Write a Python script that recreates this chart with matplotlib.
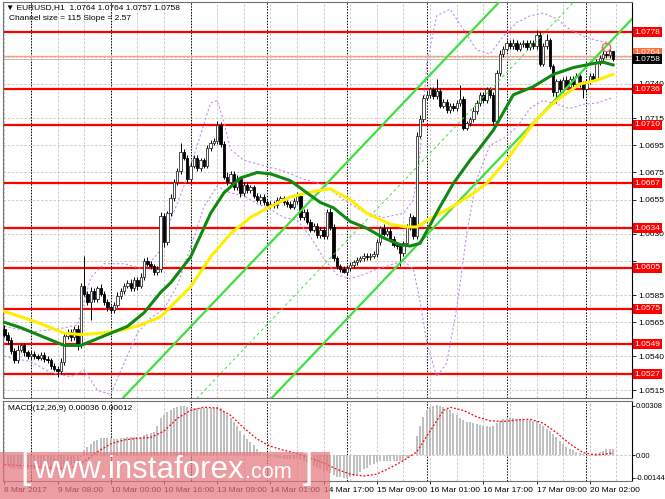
import numpy as np
import matplotlib.pyplot as plt
from matplotlib.patches import Rectangle

plt.rcParams['font.family'] = ['Liberation Sans', 'DejaVu Sans']
plt.rcParams['font.size'] = 6

# EURUSD H1, prices in pips above 1.0500 (bar 0 = 8 Mar 16:00, last = 20 Mar 09:00)
first_open = 60
closes = [56, 52, 44, 37, 45, 48, 43, 40, 42, 40,
          39, 41, 38, 37, 33, 31, 29, 36, 55, 58,
          54, 60, 48, 92, 86, 80, 88, 82, 90, 86,
          80, 76, 74, 78, 84, 88, 92, 94, 90, 96,
          92, 98, 110, 108, 106, 102, 104, 143, 124, 145,
          156, 168, 176, 190, 186, 170, 180, 186, 178, 184,
          180, 193, 197, 198, 210, 196, 172, 168, 174, 164,
          170, 160, 166, 162, 164, 158, 155, 157, 153, 151,
          152, 151, 155, 156, 153, 152, 150, 154, 158, 142,
          146, 139, 133, 136, 129, 133, 128, 146, 135, 112,
          106, 104, 102, 105, 107, 109, 111, 112, 114, 113,
          114, 115, 124, 134, 130, 132, 126, 122, 121, 116,
          123, 135, 142, 128, 202, 214, 230, 232, 236, 231,
          235, 224, 227, 221, 224, 222, 226, 229, 208, 211,
          214, 220, 226, 232, 228, 236, 232, 213, 248, 262,
          266, 270, 268, 270, 266, 269, 270, 267, 270, 268,
          276, 255, 268, 272, 253, 234, 242, 236, 243, 238,
          244, 240, 246, 240, 236, 242, 246, 244, 256, 259,
          262, 261, 264, 258]
wick_up = [3, 2, 2, 2, 3, 2, 2, 2, 2, 2, 2, 2, 2, 2, 2, 2, 2, 3, 2, 2,
           2, 2, 3, 2, 22, 2, 3, 2, 2, 3, 2, 2, 2, 2, 3, 2, 2, 2, 3, 2,
           2, 3, 2, 3, 2, 2, 2, 3, 2, 2, 3, 2, 2, 7, 2, 2, 3, 2, 2, 2,
           2, 2, 2, 2, 3, 2, 2, 3, 2, 2, 3, 2, 2, 2, 2, 2, 2, 2, 2, 2,
           2, 2, 2, 2, 2, 2, 2, 2, 3, 2, 2, 2, 2, 2, 2, 2, 2, 2, 3, 2,
           2, 2, 2, 2, 2, 2, 2, 2, 2, 2, 2, 2, 2, 2, 3, 2, 2, 2, 2, 2,
           2, 2, 3, 2, 3, 3, 2, 3, 2, 2, 9, 2, 2, 2, 2, 2, 2, 10, 2, 2,
           2, 3, 2, 2, 2, 2, 2, 2, 2, 3, 2, 2, 2, 3, 2, 2, 2, 2, 2, 2,
           4, 2, 2, 5, 2, 2, 2, 2, 2, 3, 2, 2, 2, 2, 2, 2, 2, 2, 2, 2,
           2, 2, 3, 0]
wick_dn = [2, 3, 2, 2, 2, 2, 3, 2, 2, 2, 2, 2, 2, 2, 2, 2, 4, 2, 2, 2,
           3, 2, 3, 2, 2, 2, 13, 2, 2, 2, 2, 3, 2, 2, 2, 2, 2, 2, 2, 2,
           3, 2, 2, 2, 2, 2, 2, 2, 4, 2, 2, 2, 2, 2, 2, 3, 2, 2, 2, 2,
           2, 2, 2, 2, 2, 2, 2, 2, 3, 2, 2, 3, 2, 2, 2, 2, 2, 3, 2, 2,
           2, 2, 2, 2, 2, 2, 2, 2, 2, 2, 2, 2, 2, 2, 2, 2, 2, 2, 2, 2,
           2, 2, 1, 2, 2, 2, 2, 2, 2, 2, 2, 2, 2, 2, 2, 2, 2, 2, 2, 10,
           2, 2, 2, 2, 2, 2, 2, 2, 2, 2, 2, 2, 2, 2, 2, 2, 2, 2, 2, 2,
           2, 2, 2, 2, 2, 2, 2, 3, 2, 2, 2, 2, 2, 2, 2, 2, 2, 2, 2, 2,
           2, 2, 2, 2, 2, 3, 8, 2, 2, 2, 2, 2, 2, 2, 6, 2, 2, 2, 2, 2,
           2, 2, 2, 1]

# moving averages (sampled bar, pips)
green_bars = [0, 5, 9, 14, 18, 23, 27, 32, 37, 42, 47, 50, 56, 62, 66, 71, 76, 80, 86, 91, 95,
              99, 104, 109, 114, 119, 122, 125, 127, 131, 135, 140, 142, 147, 153, 159, 165, 171,
              177, 180, 183]
green_vals = [65, 61, 57, 52, 48, 48, 52, 57, 62, 72, 87, 94, 113, 145, 160, 171, 175, 174, 169,
              160, 153, 149, 139, 134, 127, 122, 121, 123, 132, 150, 167, 184, 190, 206, 232, 238,
              247, 252, 255, 256, 254]
yellow_bars = [0, 5, 11, 18, 23, 29, 35, 41, 47, 49, 56, 62, 68, 74, 80, 86, 91, 95, 98, 104, 109,
               116, 121, 124, 128, 134, 140, 145, 151, 159, 165, 173, 177, 183]
yellow_vals = [73, 69, 64, 57, 56, 57, 59, 63, 69, 74, 91, 113, 130, 142, 150, 157, 160, 162, 163,
               155, 145, 137, 135, 135, 141, 149, 158, 167, 184, 211, 226, 240, 242, 247]

# Bollinger bands (sampled bar, pips)
bb_up_bars = [0, 8, 16, 22, 26, 30, 36, 42, 47, 50, 54, 58, 62, 64, 66, 68, 72, 78, 84, 90, 96,
              102, 108, 114, 120, 123, 125, 127, 130, 134, 138, 142, 146, 150, 154, 158, 162, 166,
              170, 174, 178, 183]
bb_up_vals = [62, 58, 60, 63, 98, 108, 108, 104, 118, 140, 165, 195, 226, 228, 212, 192, 184, 180,
              176, 170, 166, 155, 146, 142, 145, 155, 190, 255, 290, 295, 280, 265, 262, 275, 285,
              290, 292, 288, 280, 275, 272, 270]
bb_dn_bars = [0, 8, 14, 20, 24, 28, 32, 36, 40, 44, 48, 52, 56, 60, 64, 68, 72, 76, 80, 84, 88,
              92, 96, 100, 104, 108, 112, 116, 120, 123, 125, 127, 130, 133, 136, 139, 142, 146,
              150, 154, 158, 162, 166, 170, 174, 178, 183]
bb_dn_vals = [40, 36, 28, 25, 30, 15, 12, 35, 57, 68, 75, 92, 120, 150, 165, 160, 158, 152, 148,
              142, 140, 128, 112, 100, 97, 100, 104, 107, 110, 104, 80, 50, 25, 35, 75, 130, 170,
              195, 200, 208, 222, 228, 225, 222, 225, 226, 230]

# linear regression channel
chan_bar, chan_low, chan_slope, chan_size = 103, 67.5, 2.57, 115

levels = [1.0778, 1.0736, 1.0710, 1.0667, 1.0634, 1.0605, 1.0575, 1.0549, 1.0527]
price_ticks = [1.0515, 1.0540, 1.0565, 1.0585, 1.0610, 1.0630, 1.0655, 1.0675, 1.0695,
               1.0715, 1.0740, 1.0760]
price_labels = ['1.0515', '1.0540', '1.0565', '1.0585', '', '1.0630', '1.0655', '1.0675',
                '1.0695', '1.0715', '1.0740', '']
bid, ask_line, last_high = 1.0758, 1.07605, 1.0764
circle_bar, circle_price = 181, 1.0767

# MACD main (1e-5) per bar and signal samples
macd = [-70, -75, -80, -85, -85, -85, -80, -85, -85, -85,
        -85, -85, -85, -90, -95, -95, -100, -95, -80, -70,
        -60, -50, -50, -10, 30, 50, 70, 85, 95, 105,
        108, 108, 105, 102, 102, 105, 108, 110, 110, 112,
        112, 115, 125, 135, 140, 145, 185, 230, 250, 270,
        285, 295, 300, 305, 305, 300, 298, 298, 296, 296,
        295, 295, 296, 298, 300, 292, 270, 250, 230, 205,
        180, 150, 125, 100, 80, 60, 40, 20, 5, -5,
        -10, -15, -18, -20, -22, -25, -25, -22, -20, -30,
        -40, -50, -60, -70, -80, -90, -100, -100, -110, -125,
        -135, -140, -145, -145, -140, -130, -120, -105, -90, -80,
        -65, -55, -45, -40, -35, -35, -35, -38, -38, -40,
        -35, -20, -5, 0, 120, 180, 240, 280, 300, 310,
        312, 310, 300, 290, 280, 265, 250, 235, 220, 210,
        205, 200, 195, 190, 185, 180, 175, 185, 200, 215,
        225, 228, 230, 230, 228, 226, 224, 222, 220, 215,
        215, 195, 180, 165, 150, 130, 110, 90, 70, 50,
        40, 30, 20, 10, 5, 0, -5, 0, 10, 20,
        28, 35, 38, 36]
sig_bars = [0, 8, 16, 20, 24, 28, 32, 36, 40, 44, 48, 52, 56, 60, 64, 68, 72, 76, 80, 84, 88, 92,
            96, 100, 104, 108, 112, 116, 120, 124, 128, 132, 134, 138, 142, 146, 150, 154, 158,
            162, 166, 170, 174, 178, 183]
sig_vals = [-60, -70, -85, -80, -40, 20, 70, 95, 105, 110, 150, 230, 280, 300, 295, 250, 170, 100,
            55, 30, 10, -20, -50, -90, -120, -132, -120, -80, -35, 20, 150, 280, 300, 280, 240,
            215, 210, 220, 225, 200, 140, 70, 15, 0, 12]

date_bars = [0, 16, 32, 48, 64, 80, 96, 112, 128, 144, 160, 176]
date_labels = ['8 Mar 2017', '9 Mar 08:00', '10 Mar 00:00', '10 Mar 16:00', '13 Mar 09:00',
               '14 Mar 01:00', '14 Mar 17:00', '15 Mar 09:00', '16 Mar 01:00', '16 Mar 17:00',
               '17 Mar 09:00', '20 Mar 02:00']
day_starts = [8, 32, 56, 79, 103, 127, 151, 175]

pip = 0.0001
base = 1.05
c = base + np.array(closes) * pip
o = base + np.array([first_open] + closes[:-1]) * pip
hi = np.maximum(o, c) + np.array(wick_up) * pip
lo = np.minimum(o, c) - np.array(wick_dn) * pip
bars = np.arange(len(closes))

W, H = 665, 499
fig = plt.figure(figsize=(W / 100, H / 100), dpi=100)
ax = fig.add_axes([3 / W, 1 - 398 / H, 629 / W, 396 / H])
ax2 = fig.add_axes([3 / W, 1 - 481 / H, 629 / W, 80 / H])

xlim = (-0.4, 188.7)
grid_bars = np.arange(0, 190, 8)
for a in (ax, ax2):
    a.set_xlim(*xlim)
    for b in grid_bars:
        a.axvline(b, color='#c4c4c4', lw=0.6, ls=(0, (3, 2)), zorder=0)
    for b in day_starts:
        a.axvline(b, color='black', lw=0.7, ls=(0, (1.5, 1.5)), zorder=1)
    for s in a.spines.values():
        s.set_color('#707070')
    a.spines['right'].set_color('black')

# main chart
ax.set_ylim(1.05094, 1.08002)
for p in price_ticks:
    ax.axhline(p, color='#c4c4c4', lw=0.6, ls=(0, (3, 2)), zorder=0)
ax.axhline(ask_line, color='#ffa07a', lw=1.0, zorder=2)
ax.axhline(bid, color='#b0b0b0', lw=0.6, zorder=2)
for lv in levels:
    ax.axhline(lv, color='#ff0000', lw=1.6, zorder=2)

xs = np.array(xlim)
low_line = base + (chan_low + chan_slope * (xs - chan_bar)) * pip
ax.plot(xs, low_line, color='#3ee03e', lw=1.6, zorder=5)
ax.plot(xs, low_line + chan_size * pip, color='#3ee03e', lw=1.6, zorder=5)
ax.plot(xs, low_line + chan_size / 2 * pip, color='#3ee03e', lw=0.7, ls=(0, (3, 3)), zorder=5)

ax.plot(bb_up_bars, base + np.array(bb_up_vals) * pip, color='#c48ee8', lw=0.8,
        ls=(0, (2, 2)), zorder=3)
ax.plot(bb_dn_bars, base + np.array(bb_dn_vals) * pip, color='#c48ee8', lw=0.8,
        ls=(0, (2, 2)), zorder=3)

up = c >= o
body = np.maximum(np.abs(c - o), 0.000025)
bottom = np.minimum(o, c)
ax.vlines(bars, lo, hi, color='black', lw=0.7, zorder=4)
ax.bar(bars[up], body[up], bottom=bottom[up], width=0.72, color='white',
       edgecolor='#303030', lw=0.6, zorder=4)
ax.bar(bars[~up], body[~up], bottom=bottom[~up], width=0.72, color='black',
       edgecolor='black', lw=0.6, zorder=4)

ax.plot(yellow_bars, base + np.array(yellow_vals) * pip, color='#ffee00', lw=2.2, zorder=6)
ax.plot(green_bars, base + np.array(green_vals) * pip, color='#118811', lw=2.2, zorder=6)
ax.plot(circle_bar, circle_price, 'o', ms=6, mfc='none', mec='#ff6060', mew=1.0, zorder=7)

ax.set_xticks([])
ax.yaxis.tick_right()
ax.set_yticks(price_ticks)
ax.set_yticklabels(price_labels)
ax.tick_params(axis='y', length=3, width=0.6, pad=1.5, labelsize=6)

ytr = ax.get_yaxis_transform()
box = dict(boxstyle='square,pad=0.18', ec='none')
for lv in levels:
    ax.text(1.004, lv, f'{lv:.4f}', transform=ytr, ha='left', va='center', color='white',
            fontsize=6, bbox=dict(box, fc='#ff0000'), clip_on=False, zorder=10)
ax.text(1.004, 1.07628, f'{last_high:.4f}', transform=ytr, ha='left', va='center',
        color='white', fontsize=6, bbox=dict(box, fc='#ff6a3a'), clip_on=False, zorder=10)
ax.text(1.004, bid, f'{bid:.4f}', transform=ytr, ha='left', va='center', color='white',
        fontsize=6, bbox=dict(box, fc='black'), clip_on=False, zorder=11)

fig.text(6 / W, 1 - 8 / H, '\u25bc EURUSD,H1  1.0764 1.0764 1.0757 1.0758', va='center',
         fontsize=6, family=['Liberation Sans', 'DejaVu Sans'])
fig.text(9 / W, 1 - 19 / H, 'Channel size = 115 Slope = 2.57', va='center', fontsize=6)

# MACD panel
ax2.set_ylim(-0.00163, 0.00339)
ax2.axhline(0, color='#c4c4c4', lw=0.6, ls=(0, (3, 2)), zorder=0)
ax2.bar(bars, np.array(macd) * 1e-5, width=0.6, color='#c0c0c0', zorder=2)
ax2.plot(sig_bars, np.array(sig_vals) * 1e-5, color='#ff0000', lw=0.9, ls=(0, (1.5, 1.5)),
         zorder=3)
ax2.yaxis.tick_right()
ax2.set_yticks([0.00308, 0.0, -0.00144])
ax2.set_yticklabels(['0.00308', '0.00', '-0.00144'])
ax2.tick_params(axis='y', length=2, width=0.6, pad=1, labelsize=5.4)
ax2.set_xticks(date_bars)
ax2.set_xticklabels(date_labels, ha='left')
ax2.tick_params(axis='x', length=2, width=0.6, pad=2, labelsize=6)
ax2.text(5 / 629, 1 - 7 / 80, 'MACD(12,26,9) 0.00036 0.00012', transform=ax2.transAxes,
         va='center', fontsize=6)

# watermark
fig.patches.append(Rectangle((0, 0), 330 / W, 47 / H, transform=fig.transFigure,
                             fc='#e3747b', ec='none', alpha=0.7, zorder=5))
fig.text(20 / W, 1 - 478 / H, '[', color='white', fontsize=27, va='baseline', zorder=6)
fig.text(33 / W, 1 - 478 / H, 'www.instaforex', color='white', fontsize=22.5, va='baseline',
         zorder=6)
fig.text(245 / W, 1 - 478 / H, '.com', color='white', fontsize=15.6, va='baseline', zorder=6)
fig.text(303 / W, 1 - 478 / H, ']', color='white', fontsize=27, va='baseline', zorder=6)

fig.savefig('out.png', dpi=100)
